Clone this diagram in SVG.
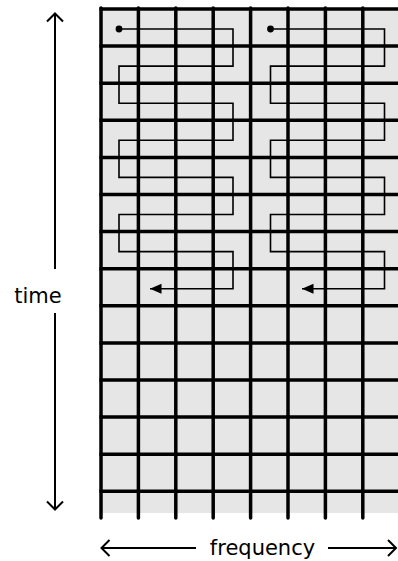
<svg xmlns="http://www.w3.org/2000/svg" width="398" height="561" viewBox="0 0 398 561">
<style>
.grid line{stroke:#000;stroke-width:3.5}
.vl{stroke-linecap:round}
.path{fill:none;stroke:#000;stroke-width:1.6}
.axis{fill:none;stroke:#000;stroke-width:2}
.lbl{font-family:"DejaVu Sans",sans-serif;font-size:21px;fill:#000}
</style>
<defs>
<marker id="ah" markerUnits="userSpaceOnUse" markerWidth="12" markerHeight="11" refX="11.5" refY="5" orient="auto" viewBox="0 0 12 10">
<path d="M0,0 L11.5,5 L0,10 z" fill="#000"/>
</marker>
</defs>
<g id="grid" class="grid">
<rect x="100" y="8" width="298" height="505" fill="#e6e6e6"/>
<line x1="99.5" y1="9" x2="398" y2="9"/>
<line x1="99.5" y1="46.1" x2="398" y2="46.1"/>
<line x1="99.5" y1="83.2" x2="398" y2="83.2"/>
<line x1="99.5" y1="120.3" x2="398" y2="120.3"/>
<line x1="99.5" y1="157.4" x2="398" y2="157.4"/>
<line x1="99.5" y1="194.5" x2="398" y2="194.5"/>
<line x1="99.5" y1="231.6" x2="398" y2="231.6"/>
<line x1="99.5" y1="268.7" x2="398" y2="268.7"/>
<line x1="99.5" y1="305.8" x2="398" y2="305.8"/>
<line x1="99.5" y1="342.9" x2="398" y2="342.9"/>
<line x1="99.5" y1="380" x2="398" y2="380"/>
<line x1="99.5" y1="417.1" x2="398" y2="417.1"/>
<line x1="99.5" y1="454.2" x2="398" y2="454.2"/>
<line x1="99.5" y1="491.3" x2="398" y2="491.3"/>
<line class="vl" x1="101" y1="8" x2="101" y2="518"/>
<line class="vl" x1="138.4" y1="8" x2="138.4" y2="518"/>
<line class="vl" x1="175.8" y1="8" x2="175.8" y2="518"/>
<line class="vl" x1="213.2" y1="8" x2="213.2" y2="518"/>
<line class="vl" x1="250.6" y1="8" x2="250.6" y2="518"/>
<line class="vl" x1="288" y1="8" x2="288" y2="518"/>
<line class="vl" x1="325.4" y1="8" x2="325.4" y2="518"/>
<line class="vl" x1="362.8" y1="8" x2="362.8" y2="518"/>
<line class="vl" x1="400" y1="8" x2="400" y2="518"/>
</g>
<g id="connectors">
<path id="scan-left" class="path" d="M119,29 H233 V66.1 H119 V103.2 H233 V140.3 H119 V177.4 H233 V214.5 H119 V251.6 H233 V288.7 H150" marker-end="url(#ah)"/>
<circle cx="119" cy="29" r="3.4" fill="#000"/>
<path id="scan-right" class="path" d="M270.5,29 H384.5 V66.1 H270.5 V103.2 H384.5 V140.3 H270.5 V177.4 H384.5 V214.5 H270.5 V251.6 H384.5 V288.7 H302" marker-end="url(#ah)"/>
<circle cx="270.5" cy="29" r="3.4" fill="#000"/>
</g>
<g id="time-axis">
<line class="axis" x1="55" y1="13.5" x2="55" y2="269"/>
<line class="axis" x1="55" y1="313" x2="55" y2="509.5"/>
<polyline class="axis" points="47,21.5 55,13.5 63,21.5"/>
<polyline class="axis" points="47,501.5 55,509.5 63,501.5"/>
<text class="lbl" x="38" y="303" text-anchor="middle">time</text>
</g>
<g id="frequency-axis">
<line class="axis" x1="101.5" y1="548" x2="196" y2="548"/>
<line class="axis" x1="328" y1="548" x2="396" y2="548"/>
<polyline class="axis" points="109.5,540 101.5,548 109.5,556"/>
<polyline class="axis" points="388,540 396,548 388,556"/>
<text class="lbl" x="262.5" y="555" text-anchor="middle">frequency</text>
</g>
</svg>
